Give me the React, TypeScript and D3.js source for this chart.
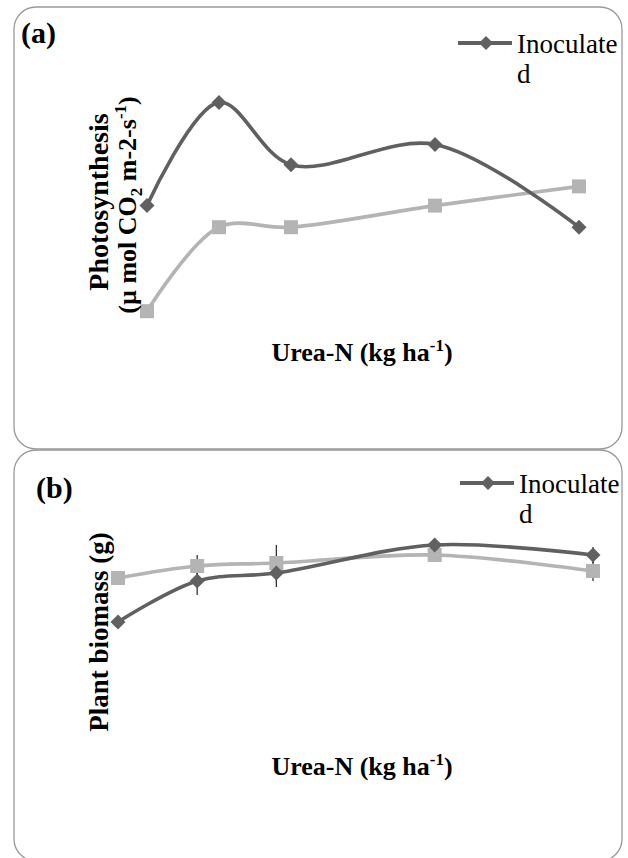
import React from 'react'
import * as d3 from 'd3'

// Urea-N levels (kg ha-1), the figure shows no tick labels
const ureaN = [0, 30, 60, 120, 180]

// (a) photosynthesis
const photoInoculated = [12.2, 20.8, 15.6, 17.3, 10.4]
const photoUninoculated = [3.4, 10.4, 10.4, 12.2, 13.8]

// (b) plant biomass
const biomassInoculated = [7.8, 11.9, 12.7, 15.5, 14.5]
const biomassUninoculated = [12.2, 13.4, 13.7, 14.5, 12.9]
const biomassInocErr = [0, 1.4, 1.4, 0, 0.8]
const biomassUninocErr = [0, 1.1, 1.8, 0, 1.0]

const seriesNames = ['Inoculated', 'Uninoculated']

const W = 628
const H = 858
const DARK = '#606060'
const LIGHT = '#b4b4b4'
const SERIF = '"Liberation Serif", "Times New Roman", serif'

const diamond = (cx: number, cy: number, r: number) =>
	`M${cx},${cy - r}L${cx + r},${cy}L${cx},${cy + r}L${cx - r},${cy}Z`

function Legend({ x, y }: { x: number, y: number }) {
	return (
		<g>
			<line x1={x} x2={x + 54} y1={y} y2={y} stroke={DARK} strokeWidth={4} />
			<path d={diamond(x + 28, y, 7)} fill={DARK} />
			<text x={x + 59} y={y + 10} fontFamily={SERIF} fontSize={27}>{seriesNames[0].slice(0, 9)}</text>
			<text x={x + 59} y={y + 40} fontFamily={SERIF} fontSize={27}>{seriesNames[0].slice(9)}</text>
		</g>
	)
}

function Series({ xs, ys, vals, color, marker }:
	{ xs: d3.ScaleLinear<number, number>, ys: d3.ScaleLinear<number, number>, vals: number[], color: string, marker: string }) {
	const pts: [number, number][] = ureaN.map((u, i) => [xs(u), ys(vals[i])])
	const line = d3.line().curve(d3.curveCatmullRom.alpha(0.5))
	return (
		<g>
			<path d={line(pts) || ''} fill="none" stroke={color} strokeWidth={3.6} />
			{pts.map((p, i) => marker === 'diamond'
				? <path key={i} d={diamond(p[0], p[1], 7.5)} fill={color} />
				: <rect key={i} x={p[0] - 7} y={p[1] - 7} width={14} height={14} fill={color} />)}
		</g>
	)
}

function ErrorBars({ xs, ys, vals, err }:
	{ xs: d3.ScaleLinear<number, number>, ys: d3.ScaleLinear<number, number>, vals: number[], err: number[] }) {
	return (
		<g>
			{ureaN.map((u, i) => err[i] > 0 &&
				<line key={i} x1={xs(u)} x2={xs(u)} y1={ys(vals[i] - err[i])} y2={ys(vals[i] + err[i])} stroke="#222" strokeWidth={1.2} />)}
		</g>
	)
}

function UreaTitle({ x, y }: { x: number, y: number }) {
	return (
		<text x={x} y={y} textAnchor="middle" fontFamily={SERIF} fontSize={26} fontWeight="bold">
			Urea-N (kg ha<tspan dy={-10} fontSize={17}>-1</tspan><tspan dy={10}>)</tspan>
		</text>
	)
}

export default function App() {
	// panel (a)
	const xa = d3.scaleLinear().domain([0, 180]).range([147, 579])
	const ya = d3.scaleLinear().domain([0, 25]).range([352, 52])
	// panel (b)
	const xb = d3.scaleLinear().domain([0, 180]).range([118, 593])
	const yb = d3.scaleLinear().domain([0, 20]).range([700, 500])

	return (
		<svg width={W} height={H} style={{ position: 'absolute', left: 0, top: 0, background: '#fff' }}>
			<rect x={14} y={7} width={608} height={442} rx={22} ry={22} fill="none" stroke="#999" strokeWidth={1.3} />
			<rect x={14} y={450} width={608} height={411} rx={22} ry={22} fill="none" stroke="#999" strokeWidth={1.3} />

			{/* (a) */}
			<text x={21} y={43} fontFamily={SERIF} fontSize={30} fontWeight="bold">(a)</text>
			<Legend x={458} y={43} />
			<Series xs={xa} ys={ya} vals={photoUninoculated} color={LIGHT} marker="square" />
			<Series xs={xa} ys={ya} vals={photoInoculated} color={DARK} marker="diamond" />
			<g transform="translate(108,202) rotate(-90)">
				<text textAnchor="middle" fontFamily={SERIF} fontSize={28} fontWeight="bold">Photosynthesis</text>
			</g>
			<g transform="translate(136,205) rotate(-90)">
				<text textAnchor="middle" fontFamily={SERIF} fontSize={26} fontWeight="bold">
					(µ mol CO<tspan dy={6} fontSize={17}>2</tspan><tspan dy={-6}> m-2-s</tspan><tspan dy={-10} fontSize={17}>-1</tspan><tspan dy={10}>)</tspan>
				</text>
			</g>
			<UreaTitle x={362} y={361} />

			{/* (b) */}
			<text x={36} y={498} fontFamily={SERIF} fontSize={30} fontWeight="bold">(b)</text>
			<Legend x={460} y={483} />
			<ErrorBars xs={xb} ys={yb} vals={biomassInoculated} err={biomassInocErr} />
			<ErrorBars xs={xb} ys={yb} vals={biomassUninoculated} err={biomassUninocErr} />
			<Series xs={xb} ys={yb} vals={biomassUninoculated} color={LIGHT} marker="square" />
			<Series xs={xb} ys={yb} vals={biomassInoculated} color={DARK} marker="diamond" />
			<g transform="translate(108,632) rotate(-90)">
				<text textAnchor="middle" fontFamily={SERIF} fontSize={27} fontWeight="bold">Plant biomass (g)</text>
			</g>
			<UreaTitle x={362} y={775} />
		</svg>
	)
}
